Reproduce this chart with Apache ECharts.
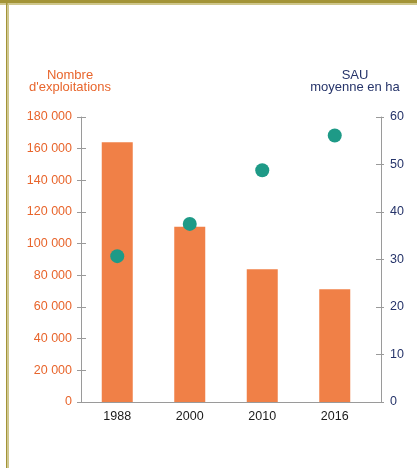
<!DOCTYPE html>
<html>
<head>
<meta charset="utf-8">
<script src="https://cdn.jsdelivr.net/npm/echarts@6/dist/echarts.min.js"></script>
<style>
html,body{margin:0;padding:0;background:#fff;}
#c{width:417px;height:468px;}
</style>
</head>
<body>
<div id="c"></div>
<script>
// Data
var years = ['1988', '2000', '2010', '2016'];
var exploitations = [164000, 110700, 83800, 71200];
var sauMoyenne = [30.7, 37.5, 48.8, 56.1];
var leftTitle = "Nombre\nd'exploitations";
var rightTitle = "SAU\nmoyenne en ha";

var ORANGE = '#f08047';
var ORANGE_TXT = '#e8652c';
var NAVY = '#26346a';
var TEAL = '#1e9a87';
var GREY = '#9a9a9a';
var FONT = '"Liberation Sans", Arial, sans-serif';

function fmt(v) {
  return String(v).replace(/\B(?=(\d{3})+(?!\d))/g, ' ');
}

var chart = echarts.init(document.getElementById('c'), null, {renderer: 'canvas'});
chart.setOption({
  animation: false,
  backgroundColor: '#fff',
  grid: [
    {left: 81, right: 46, top: 117, bottom: 66, containLabel: false},
    {left: 81, right: 36, top: 117, bottom: 66, containLabel: false}
  ],
  xAxis: [
    {
      type: 'category',
      data: years,
      gridIndex: 0,
      axisLine: {show: true, lineStyle: {color: GREY, width: 1}},
      axisTick: {show: false},
      axisLabel: {color: '#1a1a1a', fontSize: 12.5, fontFamily: FONT, margin: 8}
    },
    {
      type: 'value', gridIndex: 1, min: 0, max: 1,
      axisLine: {show: true, onZero: false, lineStyle: {color: GREY, width: 1}},
      axisTick: {show: false}, axisLabel: {show: false}, splitLine: {show: false}
    }
  ],
  yAxis: [
    {
      type: 'value', position: 'left', min: 0, max: 180000, interval: 20000,
      axisLine: {show: true, lineStyle: {color: GREY}},
      axisTick: {show: true, length: 4, lineStyle: {color: GREY}},
      splitLine: {show: false},
      axisLabel: {color: ORANGE_TXT, fontSize: 12.5, fontFamily: FONT, margin: 9, formatter: fmt}
    },
    {
      type: 'value', position: 'left', min: 0, max: 180000, interval: 20000,
      axisLine: {show: false},
      axisTick: {show: true, inside: true, length: 5, lineStyle: {color: GREY}},
      splitLine: {show: false},
      axisLabel: {show: false}
    },
    {
      type: 'value', position: 'right', offset: 10, min: 0, max: 60, interval: 10,
      axisLine: {show: true, lineStyle: {color: GREY}},
      axisTick: {show: true, length: 3, lineStyle: {color: GREY}},
      splitLine: {show: false},
      axisLabel: {color: NAVY, fontSize: 12.5, fontFamily: FONT, margin: 9}
    },
    {
      type: 'value', position: 'right', offset: 10, min: 0, max: 60, interval: 10,
      axisLine: {show: false},
      axisTick: {show: true, inside: true, length: 5, lineStyle: {color: GREY}},
      splitLine: {show: false},
      axisLabel: {show: false}
    },
    {
      type: 'value', gridIndex: 1, min: 0, max: 1, show: false
    }
  ],
  series: [
    {
      type: 'bar', name: "Nombre d'exploitations", data: exploitations,
      yAxisIndex: 0, barWidth: 31,
      itemStyle: {color: ORANGE}
    },
    {
      type: 'scatter', name: 'SAU moyenne en ha', data: sauMoyenne,
      yAxisIndex: 2, symbol: 'circle', symbolSize: 14,
      itemStyle: {color: TEAL, opacity: 1}, z: 5
    }
  ],
  graphic: [
    {type: 'rect', shape: {x: 0, y: 0, width: 417, height: 3}, style: {fill: '#a39437'}, silent: true},
    {type: 'rect', shape: {x: 0, y: 3, width: 417, height: 2}, style: {fill: '#cfc78c'}, silent: true},
    {type: 'rect', shape: {x: 6, y: 3, width: 1.5, height: 465}, style: {fill: '#a39437'}, silent: true},
    {type: 'rect', shape: {x: 7.5, y: 5, width: 1.5, height: 463}, style: {fill: '#cfc78c'}, silent: true},
    {type: 'text', x: 70, y: 69, style: {text: leftTitle, textAlign: 'center', textVerticalAlign: 'top', fill: ORANGE_TXT, fontSize: 13, fontFamily: FONT, lineHeight: 12}},
    {type: 'text', x: 355, y: 69, style: {text: rightTitle, textAlign: 'center', textVerticalAlign: 'top', fill: NAVY, fontSize: 13, fontFamily: FONT, lineHeight: 12}}
  ]
});
</script>
</body>
</html>
